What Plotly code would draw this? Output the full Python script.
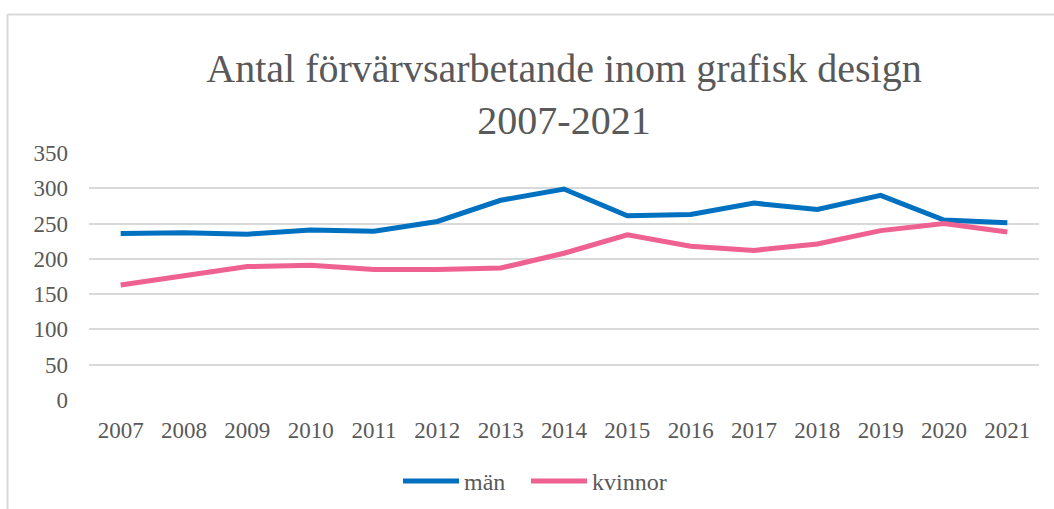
import plotly.graph_objects as go

# Antal förvärvsarbetande inom grafisk design, per kön
years = ["2007", "2008", "2009", "2010", "2011", "2012", "2013", "2014",
         "2015", "2016", "2017", "2018", "2019", "2020", "2021"]
man = [236, 237, 235, 241, 239, 253, 283, 299, 261, 263, 279, 270, 290, 255, 251]
kvinnor = [163, 176, 189, 191, 185, 185, 187, 208, 234, 218, 212, 221, 240, 250, 238]
y_ticks = [0, 50, 100, 150, 200, 250, 300, 350]

W, H = 1054, 509
ML, MR, MT, MB = 89, 15, 153, 109
PW, PH = W - ML - MR, H - MT - MB

FONT = "Liberation Serif"
TXT = "#595959"
GRID = "#d9d9d9"


def px_x(px):
    return (px - ML) / PW


def px_y(py):
    return (H - MB - py) / PH


fig = go.Figure()
fig.add_trace(go.Scatter(x=years, y=man, name="män", mode="lines",
                         line=dict(color="#0070C0", width=5), legend="legend"))
fig.add_trace(go.Scatter(x=years, y=kvinnor, name="kvinnor", mode="lines",
                         line=dict(color="#EE6191", width=5), legend="legend2"))

# chart frame (top and left edges)
fig.add_shape(type="line", xref="paper", yref="paper",
              x0=px_x(7.5), x1=px_x(W), y0=px_y(14.5), y1=px_y(14.5),
              line=dict(color=GRID, width=2))
fig.add_shape(type="line", xref="paper", yref="paper",
              x0=px_x(7.5), x1=px_x(7.5), y0=px_y(14), y1=px_y(H),
              line=dict(color=GRID, width=2))

legend_style = dict(orientation="h", xanchor="left", y=px_y(459), yanchor="top",
                    font=dict(family=FONT, size=24, color=TXT),
                    itemwidth=56, tracegroupgap=0)

fig.update_layout(
    width=W, height=H,
    margin=dict(l=ML, r=MR, t=MT, b=MB, autoexpand=False),
    paper_bgcolor="white", plot_bgcolor="white",
    font=dict(family=FONT, color=TXT, size=22),
    title=dict(text="Antal förvärvsarbetande inom grafisk design<br>2007-2021",
               x=0.5, xref="paper", xanchor="center",
               y=1 - 82 / H, yref="container", yanchor="middle",
               font=dict(family=FONT, size=40, color=TXT)),
    xaxis=dict(type="category", range=[-0.5, len(years) - 0.5],
               showgrid=False, zeroline=False, showline=False,
               ticks="", ticklabelstandoff=14, automargin=False,
               tickfont=dict(family=FONT, size=23, color=TXT)),
    yaxis=dict(range=[0, 350], tickvals=y_ticks, showgrid=True, gridcolor=GRID,
               gridwidth=2, zeroline=False, showline=False, ticks="",
               ticklabelstandoff=20, automargin=False,
               tickfont=dict(family=FONT, size=23, color=TXT)),
    legend=dict(x=px_x(398), **legend_style),
    legend2=dict(x=px_x(526), **legend_style),
    showlegend=True,
)

fig.write_html("out.html")
